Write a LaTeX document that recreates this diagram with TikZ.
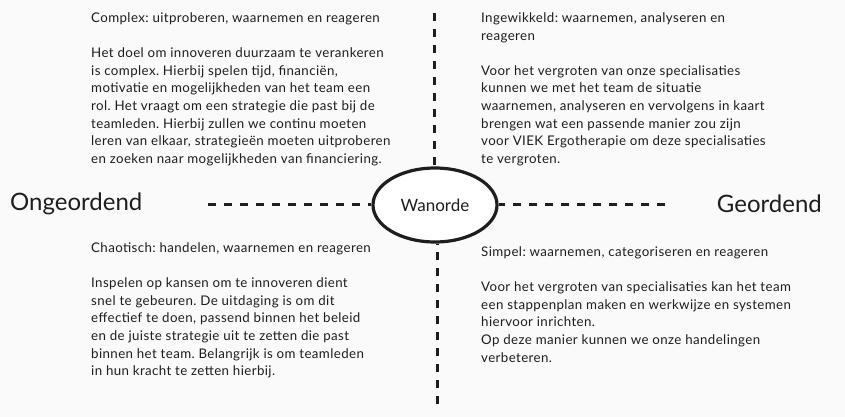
\documentclass[tikz,border=0pt]{standalone}
\usepackage{fontspec}
\setmainfont{Lato}
\newfontfamily\bodyfont[LetterSpace=3]{Lato}
\frenchspacing
\usetikzlibrary{shapes.geometric}
\definecolor{bg}{HTML}{FAFAFA}
\definecolor{ink}{HTML}{1E1E1E}
\tikzset{
  body/.style={anchor=north west, inner sep=0pt, align=left, text=ink,
    font=\bodyfont\fontsize{13.3}{17.6}\selectfont},
  side/.style={inner sep=0pt, text=ink, font=\fontsize{24}{28}\selectfont},
  axis/.style={draw=ink, line width=3pt, dash pattern=on 8pt off 8pt},
  hub/.style={ellipse, draw=ink, line width=3.2pt, fill=white, minimum width=124pt, minimum height=74pt, inner sep=0pt, text=ink, font=\fontsize{17}{20}\selectfont}
}
\begin{document}
\begin{tikzpicture}[x=1pt,y=-1pt]
\fill[bg] (0,0) rectangle (845,417);
\useasboundingbox (0,0) rectangle (845,417);
\node[hub] (c) at (435,205) {Wanorde};
\coordinate (top) at (434,13);
\coordinate (bot) at (437,404);
\coordinate (lft) at (208,204);
\coordinate (rgt) at (665,204);
\draw[axis] (top) -- (top |- c.north);
\draw[axis] (bot) -- (bot |- c.south);
\draw[axis] (lft) -- (lft -| c.west);
\draw[axis] (rgt) -- (rgt -| c.east);
\node[side, anchor=west] (l) at (10,204) {Ongeordend};
\node[side, anchor=east] (r) at (822,204) {Geordend};
\node[body] (tl) at (91,12.5) {Complex: uitproberen, waarnemen en reageren\\[17.6pt]
Het doel om innoveren duurzaam te verankeren\\
is complex. Hierbij spelen tijd, financiën,\\
motivatie en mogelijkheden van het team een\\
rol. Het vraagt om een strategie die past bij de\\
teamleden. Hierbij zullen we continu moeten\\
leren van elkaar, strategieën moeten uitproberen\\
en zoeken naar mogelijkheden van financiering.};
\node[body] (tr) at (481,12.5) {Ingewikkeld: waarnemen, analyseren en\\
reageren\\[17.6pt]
Voor het vergroten van onze specialisaties\\
kunnen we met het team de situatie\\
waarnemen, analyseren en vervolgens in kaart\\
brengen wat een passende manier zou zijn\\
voor VIEK Ergotherapie om deze specialisaties\\
te vergroten.};
\node[body] (bl) at (91,242.5) {Chaotisch: handelen, waarnemen en reageren\\[17.6pt]
Inspelen op kansen om te innoveren dient\\
snel te gebeuren. De uitdaging is om dit\\
effectief te doen, passend binnen het beleid\\
en de juiste strategie uit te zetten die past\\
binnen het team. Belangrijk is om teamleden\\
in hun kracht te zetten hierbij.};
\node[body] (br) at (481,246.5) {Simpel: waarnemen, categoriseren en reageren\\[17.6pt]
Voor het vergroten van specialisaties kan het team\\
een stappenplan maken en werkwijze en systemen\\
hiervoor inrichten.\\
Op deze manier kunnen we onze handelingen\\
verbeteren.};
\end{tikzpicture}
\end{document}
